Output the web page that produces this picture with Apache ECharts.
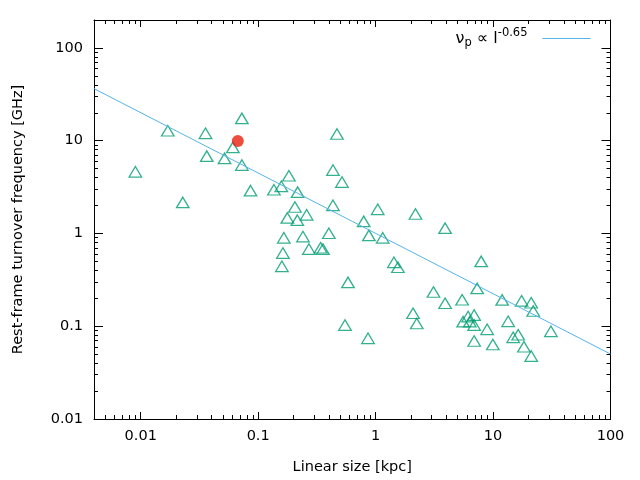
<!DOCTYPE html>
<html>
<head>
<meta charset="utf-8">
<script src="https://cdn.jsdelivr.net/npm/echarts@6/dist/echarts.min.js"></script>
<style>html,body{margin:0;padding:0;background:#fff}#c{width:640px;height:480px}</style>
</head>
<body>
<div id="c"></div>
<script>
// Linear size [kpc] of each source (triangles)
const sizeKpc = [
  0.0090, 0.0170, 0.0228, 0.0356, 0.0365, 0.0517, 0.0609, 0.0726, 0.0726, 0.0861,
  0.1361, 0.1574, 0.1827, 0.2167, 0.2055, 0.2586, 0.1771, 0.2154, 0.1653, 0.2405,
  0.2705, 0.3404, 0.3561, 0.1624, 0.1592, 0.3997, 0.4333, 0.4333, 0.4688, 0.5171,
  0.5817, 0.5485, 0.7916, 0.8768, 0.8614, 1.042, 1.149, 1.432, 1.549, 2.184,
  2.084, 2.241, 3.110, 3.905, 3.905, 5.453, 5.561, 6.134, 6.342, 6.901,
  6.901, 7.320, 6.901, 7.917, 8.907, 9.961, 11.96, 13.45, 14.84, 16.37,
  17.50, 18.31, 21.13, 21.97, 21.13, 31.10
];
// Rest-frame turnover frequency [GHz] of each source
const turnoverGHz = [
  4.62, 12.8, 2.16, 12.0, 6.82, 6.45, 8.47, 17.4, 5.46, 2.89,
  2.96, 3.22, 4.19, 2.79, 1.93, 1.59, 1.47, 1.39, 0.897, 0.926,
  0.679, 0.701, 0.679, 0.615, 0.442, 1.005, 2.01, 4.82, 11.8, 3.58,
  0.297, 0.103, 1.35, 0.954, 0.0741, 1.82, 0.897, 0.489, 0.432, 1.62,
  0.138, 0.107, 0.234, 1.14, 0.177, 0.193, 0.112, 0.127, 0.112, 0.132,
  0.103, 0.256, 0.0693, 0.500, 0.0926, 0.0635, 0.192, 0.113, 0.0759, 0.0810,
  0.188, 0.0601, 0.179, 0.146, 0.0477, 0.0881
];
// Highlighted source (red circle)
const highlightSize = [0.0671];
const highlightFreq = [9.90];
// Power-law fit nu_p ∝ l^-0.65, endpoints across the x range
const fitX = [0.004, 100];
const fitY = [36.4, 0.0501];
const fitName = 'fit';
// Axes
const xRange = [0.004, 100];
const yRange = [0.01, 200];
const xTickLabels = [0.01, 0.1, 1, 10, 100];
const yTickLabels = [0.01, 0.1, 1, 10, 100];
const xTitle = 'Linear size [kpc]';
const yTitle = 'Rest-frame turnover frequency [GHz]';

function minorTicks(range) {
  const out = [];
  for (let e = -4; e <= 3; e++) {
    for (let k = 2; k <= 9; k++) {
      const v = +(k * Math.pow(10, e)).toPrecision(6);
      if (v > range[0] * 1.0001 && v < range[1] * 0.9999) out.push(v);
    }
  }
  return out;
}

const FONT = 'DejaVu Sans';
const FS = 14.5;
const black = '#000';

function makeAxis(range, position, ticks, tickLen, opts) {
  const a = {
    type: 'log',
    logBase: 10,
    min: range[0],
    max: range[1],
    position: position,
    gridIndex: 0,
    axisLine: { show: !!opts.line, onZero: false, lineStyle: { color: black, width: 1 } },
    axisTick: { show: true, inside: true, length: tickLen, customValues: ticks, lineStyle: { color: black, width: 1 } },
    axisLabel: { show: false },
    splitLine: { show: false },
    minorTick: { show: false },
    minorSplitLine: { show: false }
  };
  if (opts.labels) {
    a.axisLabel = {
      show: true,
      customValues: opts.labels,
      formatter: v => String(v),
      fontFamily: FONT, fontSize: FS, color: black,
      margin: opts.margin
    };
  }
  if (opts.name) {
    a.name = opts.name;
    a.nameLocation = 'middle';
    a.nameGap = opts.nameGap;
    a.nameTextStyle = { fontFamily: FONT, fontSize: FS, color: black };
  }
  return a;
}

const chart = echarts.init(document.getElementById('c'), null, { renderer: 'canvas' });
chart.setOption({
  animation: false,
  backgroundColor: '#fff',
  grid: { left: 94, right: 29.5, top: 20, bottom: 61, containLabel: false },
  xAxis: [
    makeAxis(xRange, 'bottom', xTickLabels, 7, { line: true, labels: xTickLabels, margin: 10, name: xTitle, nameGap: 41 }),
    makeAxis(xRange, 'bottom', minorTicks(xRange), 4, {}),
    makeAxis(xRange, 'top', xTickLabels, 7, { line: true }),
    makeAxis(xRange, 'top', minorTicks(xRange), 4, {})
  ],
  yAxis: [
    makeAxis(yRange, 'left', yTickLabels, 9, { line: true, labels: yTickLabels, margin: 11, name: yTitle, nameGap: 68 }),
    makeAxis(yRange, 'left', minorTicks(yRange), 4, {}),
    makeAxis(yRange, 'right', yTickLabels, 9, { line: true }),
    makeAxis(yRange, 'right', minorTicks(yRange), 4, {})
  ],
  legend: {
    show: true,
    data: [{ name: fitName, icon: 'rect' }],
    right: 49.5,
    top: 27.5,
    padding: 0,
    align: 'right',
    itemWidth: 48,
    itemHeight: 1,
    selectedMode: false,
    itemStyle: { color: '#56b4e9', borderWidth: 0 },
    formatter: () => '{a|ν}{s|p}{a| ∝ l}{u|-0.65}',
    textStyle: {
      fontFamily: FONT, fontSize: 16, color: black,
      padding: [0, 10, 0, 0],
      rich: {
        a: { fontFamily: FONT, fontSize: 16, color: black, lineHeight: 22, verticalAlign: 'middle' },
        s: { fontFamily: FONT, fontSize: 11.5, color: black, lineHeight: 12, verticalAlign: 'bottom' },
        u: { fontFamily: FONT, fontSize: 11.5, color: black, lineHeight: 12, verticalAlign: 'top' }
      }
    }
  },
  series: [
    {
      type: 'scatter',
      name: 'sources',
      xAxisIndex: 0, yAxisIndex: 0,
      symbol: 'triangle',
      symbolSize: [12.5, 10.5],
      itemStyle: { color: 'rgba(0,0,0,0)', borderColor: '#009e73', borderWidth: 1.3 },
      data: sizeKpc.map((x, i) => [x, turnoverGHz[i]]),
      z: 2
    },
    {
      type: 'line',
      name: fitName,
      xAxisIndex: 0, yAxisIndex: 0,
      symbol: 'none',
      showSymbol: false,
      lineStyle: { color: '#56b4e9', width: 1 },
      itemStyle: { color: '#56b4e9' },
      data: fitX.map((x, i) => [x, fitY[i]]),
      z: 3
    },
    {
      type: 'scatter',
      name: 'highlight',
      xAxisIndex: 0, yAxisIndex: 0,
      symbol: 'circle',
      symbolSize: 12,
      itemStyle: { color: '#e8200f' },
      data: highlightSize.map((x, i) => [x, highlightFreq[i]]),
      z: 4
    }
  ]
});
</script>
</body>
</html>
